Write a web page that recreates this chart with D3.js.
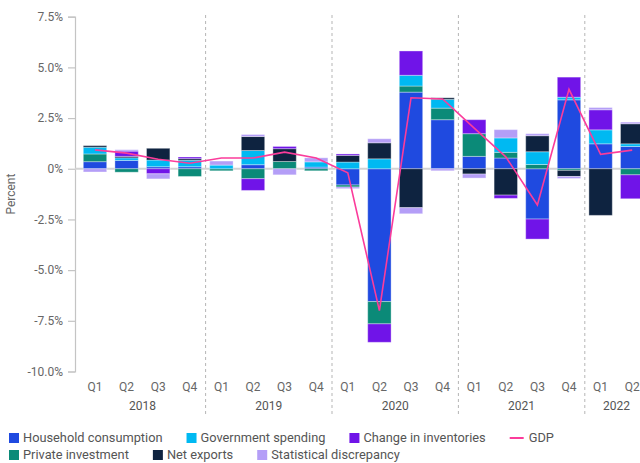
<!doctype html>
<html lang="en">

<head>
    <meta charset="UTF-8" />
    <script src="https://d3js.org/d3.v7.min.js"></script>
    <title>GDP contributions</title>
    <style>
        body { margin: 0; background: #fff; }
        text { font-family: Roboto, "Liberation Sans", sans-serif; }
    </style>
</head>

<body>
    <div id="chart"></div>
    <script>
        // Quarters and years along the x axis
        const years = ["2018", "2019", "2020", "2021", "2022"]
        const periods = [
            "2018Q1", "2018Q2", "2018Q3", "2018Q4",
            "2019Q1", "2019Q2", "2019Q3", "2019Q4",
            "2020Q1", "2020Q2", "2020Q3", "2020Q4",
            "2021Q1", "2021Q2", "2021Q3", "2021Q4",
            "2022Q1", "2022Q2"
        ]

        // Contributions, percentage points
        const household = [0.35, 0.41, 0.10, 0.10, 0.00, 0.20, 0.00, 0.08, -0.80, -6.55, 3.78, 2.42, 0.61, 0.53, -2.48, 3.40, 1.23, 1.10]
        const privateInvestment = [0.38, -0.17, 0.00, -0.38, -0.10, -0.49, 0.36, -0.10, -0.10, -1.10, 0.30, 0.57, 1.12, 0.28, 0.21, -0.08, 0.00, -0.30]
        const government = [0.33, 0.13, 0.33, 0.32, 0.18, 0.70, 0.00, 0.26, 0.33, 0.49, 0.53, 0.43, 0.00, 0.71, 0.63, 0.13, 0.69, 0.13]
        const netExports = [0.08, 0.07, 0.58, 0.08, 0.00, 0.69, 0.63, 0.00, 0.33, 0.79, -1.92, 0.08, -0.26, -1.30, 0.79, -0.30, -2.30, 0.99]
        const inventories = [0.00, 0.26, -0.25, 0.08, 0.00, -0.58, 0.11, 0.00, 0.07, -0.91, 1.20, 0.00, 0.69, -0.16, -0.99, 0.99, 0.99, -1.18]
        const discrepancy = [-0.16, 0.07, -0.25, 0.00, 0.20, 0.10, -0.30, 0.20, -0.08, 0.20, -0.30, -0.10, -0.20, 0.41, 0.10, -0.10, 0.11, 0.08]
        const gdp = [0.93, 0.77, 0.47, 0.27, 0.53, 0.53, 0.82, 0.53, -0.20, -7.00, 3.50, 3.44, 2.00, 0.59, -1.79, 3.92, 0.71, 0.92]

        const yTicks = [7.5, 5, 2.5, 0, -2.5, -5, -7.5, -10]
        const yTickLabels = ["7.5%", "5.0%", "2.5%", "0%", "-2.5%", "-5.0%", "-7.5%", "-10.0%"]

        // Series in stacking order
        const series = [
            { key: "household", name: "Household consumption", values: household, color: "#1f4ae0" },
            { key: "private", name: "Private investment", values: privateInvestment, color: "#0b8a78" },
            { key: "government", name: "Government spending", values: government, color: "#00b9f2" },
            { key: "netexports", name: "Net exports", values: netExports, color: "#0e2340" },
            { key: "inventories", name: "Change in inventories", values: inventories, color: "#7014e8" },
            { key: "discrepancy", name: "Statistical discrepancy", values: discrepancy, color: "#b49ef7" }
        ]
        const gdpColor = "#fb3c9b"
        const legendOrder = ["household", "government", "inventories", "gdp", "private", "netexports", "discrepancy"]

        const WIDTH = 640
        const HEIGHT = 463
        const axisX = 75

        const svg = d3.select("#chart")
            .append("svg")
            .attr("width", WIDTH)
            .attr("height", HEIGHT)

        // Scales
        const x = d3.scaleBand()
            .domain(periods)
            .range([79.2, 79.2 + 31.6 * periods.length])
            .paddingInner(0.26)
            .paddingOuter(0.13)
        const step = x.step()

        const y = d3.scaleLinear().domain([-10, 7.5]).range([371.5, 16.7])

        // Stack
        const table = periods.map((p, i) => {
            const row = { period: p }
            series.forEach(s => { row[s.key] = s.values[i] })
            return row
        })
        const stacked = d3.stack()
            .keys(series.map(s => s.key))
            .offset(d3.stackOffsetDiverging)(table)

        // Year separators
        const sepX = [1, 2, 3, 4].map(k => x(periods[k * 4]) - (step - x.bandwidth()) / 2)
        svg.append("g")
            .selectAll("line")
            .data(sepX)
            .join("line")
            .attr("x1", d => d).attr("x2", d => d)
            .attr("y1", 15).attr("y2", 416)
            .attr("stroke", "#b5b5b5")
            .attr("stroke-dasharray", "3,3")

        // Y axis
        const yAxis = svg.append("g")
            .attr("transform", `translate(${axisX},0)`)
            .call(d3.axisLeft(y)
                .tickValues(yTicks)
                .tickFormat((d, i) => yTickLabels[i])
                .tickSize(7)
                .tickPadding(5))
        yAxis.select(".domain").attr("stroke", "#c4c4c4").attr("stroke-width", 1.2)
        yAxis.selectAll(".tick line").attr("stroke", "#c4c4c4").attr("stroke-width", 1.2)
        yAxis.selectAll(".tick text")
            .attr("fill", "#666")
            .style("font-size", "12px")
            .style("font-family", "Roboto, 'Liberation Sans', sans-serif")

        // Zero line
        svg.append("line")
            .attr("x1", axisX).attr("x2", WIDTH)
            .attr("y1", y(0)).attr("y2", y(0))
            .attr("stroke", "#d3d3d3")
            .attr("stroke-width", 2)

        svg.append("text")
            .attr("transform", `translate(15,${(y(7.5) + y(-10)) / 2}) rotate(-90)`)
            .attr("text-anchor", "middle")
            .attr("fill", "#666")
            .style("font-size", "12px")
            .text("Percent")

        // Bars
        const colorOf = new Map(series.map(s => [s.key, s.color]))
        svg.append("g")
            .selectAll("g")
            .data(stacked)
            .join("g")
            .attr("fill", d => colorOf.get(d.key))
            .selectAll("rect")
            .data(d => d)
            .join("rect")
            .attr("x", d => x(d.data.period))
            .attr("width", x.bandwidth())
            .attr("y", d => y(Math.max(d[0], d[1])))
            .attr("height", d => Math.abs(y(d[0]) - y(d[1])))
            .attr("stroke", "#fff")
            .attr("stroke-opacity", 0.35)
            .attr("stroke-width", 1)

        // GDP line
        const line = d3.line()
            .x((d, i) => x(periods[i]) + x.bandwidth() / 2)
            .y(d => y(d))
        svg.append("path")
            .datum(gdp)
            .attr("d", line)
            .attr("fill", "none")
            .attr("stroke", gdpColor)
            .attr("stroke-width", 1.6)

        // X axis labels
        svg.append("g")
            .selectAll("text")
            .data(periods)
            .join("text")
            .attr("x", d => x(d) + x.bandwidth() / 2)
            .attr("y", 391)
            .attr("text-anchor", "middle")
            .attr("fill", "#666")
            .style("font-size", "12px")
            .text(d => d.slice(4))

        svg.append("g")
            .selectAll("text")
            .data(years)
            .join("text")
            .attr("x", yr => {
                const ps = periods.filter(p => p.startsWith(yr))
                return (x(ps[0]) + x(ps[ps.length - 1]) + x.bandwidth()) / 2
            })
            .attr("y", 410)
            .attr("text-anchor", "middle")
            .attr("fill", "#555")
            .style("font-size", "12px")
            .text(d => d)

        // Legend, flowing in two rows
        const legendItems = legendOrder.map(k => k === "gdp"
            ? { key: "gdp", name: "GDP", color: gdpColor }
            : series.find(s => s.key === k))
        const legend = svg.append("g")
        let lx = 9, ly = 438
        legendItems.forEach(d => {
            if (d.key === "private") { lx = 9; ly = 455 }
            const g = legend.append("g").attr("transform", `translate(${lx},${ly})`)
            let tx
            if (d.key === "gdp") {
                g.append("line")
                    .attr("x1", 0).attr("x2", 14)
                    .attr("y1", 0).attr("y2", 0)
                    .attr("stroke", d.color)
                    .attr("stroke-width", 2)
                tx = 19
            } else {
                g.append("rect")
                    .attr("x", 0).attr("y", -5)
                    .attr("width", 10).attr("height", 10)
                    .attr("fill", d.color)
                tx = 14
            }
            const t = g.append("text")
                .attr("x", tx)
                .attr("y", 0)
                .attr("dy", "0.35em")
                .attr("fill", "#555")
                .style("font-size", "12.8px")
                .text(d.name)
            lx += tx + t.node().getComputedTextLength() + 24
        })
    </script>
</body>

</html>
